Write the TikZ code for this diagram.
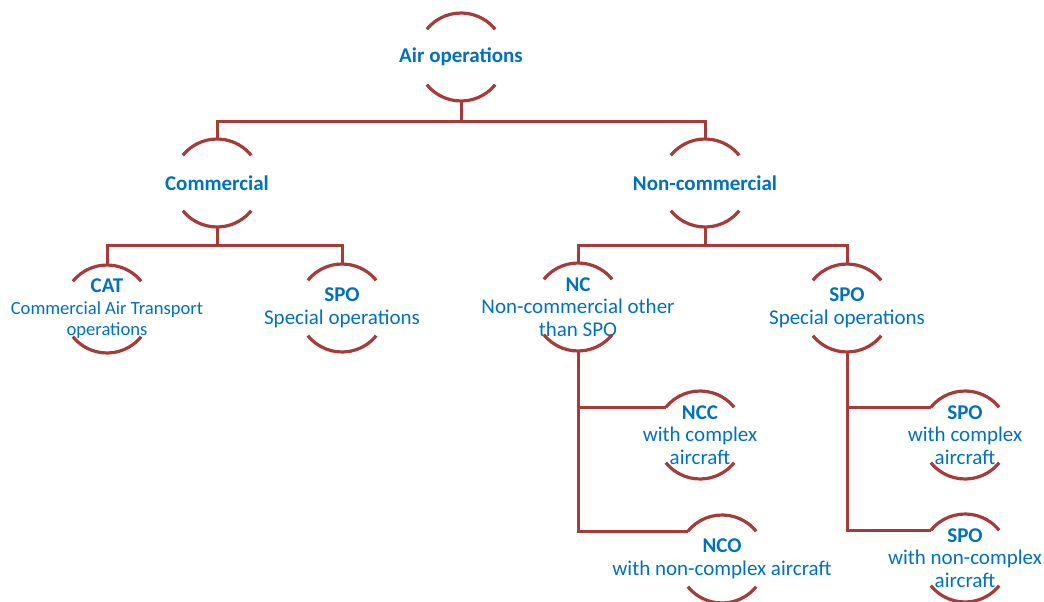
\documentclass[tikz,border=0pt]{standalone}
\usepackage{fontspec}
\setmainfont{Carlito}
\definecolor{linered}{RGB}{165,60,58}
\definecolor{txtblue}{RGB}{0,112,192}
\newcommand\ringarcs[1]{%
  \draw[arcline] ([shift={(141:44pt)}]#1.center) arc[start angle=141,end angle=39,radius=44pt];
  \draw[arcline] ([shift={(219:44pt)}]#1.center) arc[start angle=219,end angle=321,radius=44pt];}
\newcommand\hd[1]{{\fontsize{21}{22}\selectfont\bfseries #1}}
\begin{document}
\begin{tikzpicture}[x=1pt,y=1pt,
  label/.style={inner sep=0pt,align=center,text=txtblue,font=\fontsize{21}{22.5}\selectfont},
  small/.style={font=\fontsize{18.6}{21.5}\selectfont},
  arcline/.style={draw=linered,line width=3.2pt},
  conn/.style={draw=linered,line width=3pt}]
\useasboundingbox (0,0) rectangle (1044,-602);
\node[label] (root) at (461,-57) {\hd{Air operations}};
\node[label] (comm) at (217,-183) {\hd{Commercial}};
\node[label] (ncom) at (705,-183) {\hd{Non-commercial}};
\node[label,small] (cat) at (107,-309) {\hd{CAT}\\Commercial Air Transport\\operations};
\node[label] (spoa) at (342,-308) {\hd{SPO}\\Special operations};
\node[label] (nc) at (578,-307) {\hd{NC}\\Non-commercial other\\than SPO};
\node[label] (spob) at (847,-308) {\hd{SPO}\\Special operations};
\node[label] (ncc) at (700,-435) {\hd{NCC}\\with complex\\aircraft};
\node[label] (nco) at (722,-559) {\hd{NCO}\\with non-complex aircraft};
\node[label] (spoc) at (965,-435) {\hd{SPO}\\with complex\\aircraft};
\node[label] (spon) at (965,-558) {\hd{SPO}\\with non-complex\\aircraft};
\foreach \n in {root,comm,ncom,cat,spoa,nc,spob,ncc,nco,spoc,spon}{\ringarcs{\n}}
% connectors
\coordinate (j1) at ([yshift=-64pt]root.center);
\draw[conn] ([yshift=-44pt]root.center) -- (j1);
\draw[conn] (j1) -| ([yshift=44pt]comm.center);
\draw[conn] (j1) -| ([yshift=44pt]ncom.center);
\coordinate (j2) at ([yshift=-62pt]comm.center);
\draw[conn] ([yshift=-44pt]comm.center) -- (j2);
\draw[conn] (j2) -| ([yshift=44pt]cat.center);
\draw[conn] (j2) -| ([yshift=44pt]spoa.center);
\coordinate (j3) at ([yshift=-62pt]ncom.center);
\draw[conn] ([yshift=-44pt]ncom.center) -- (j3);
\draw[conn] (j3) -| ([yshift=44pt]nc.center);
\draw[conn] (j3) -| ([yshift=44pt]spob.center);
\draw[conn] ([yshift=-44pt]nc.center) |- ([shift={(141:44pt)}]ncc.center);
\draw[conn] ([yshift=-44pt]nc.center) |- ([shift={(141:44pt)}]nco.center);
\draw[conn] ([yshift=-44pt]spob.center) |- ([shift={(141:44pt)}]spoc.center);
\draw[conn] ([yshift=-44pt]spob.center) |- ([shift={(141:44pt)}]spon.center);
\end{tikzpicture}
\end{document}
